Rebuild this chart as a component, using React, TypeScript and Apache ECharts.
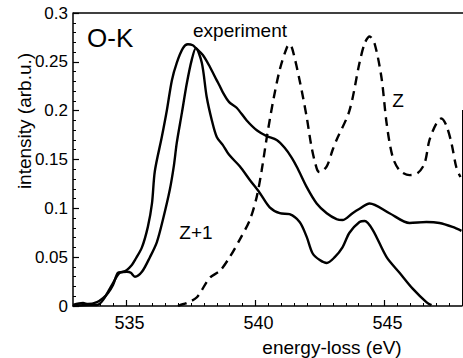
import React, { useEffect, useRef } from "react";
import * as echarts from "echarts";

// energy-loss (eV) and intensity (arb.u.)
const expE = [532.93, 533.32, 533.51, 533.86, 534.09, 534.28, 534.48, 534.67, 534.86, 535.02, 535.21, 535.33, 535.6, 535.83, 535.99, 536.1, 536.37, 536.57, 536.76, 536.95, 537.19, 537.38, 537.57, 537.69, 537.96, 538.23, 538.5, 538.62, 538.73, 538.97, 539.27, 539.66, 540.05, 540.44, 540.82, 541.13, 541.4, 541.63, 541.98, 542.37, 542.76, 543.14, 543.37, 543.76, 544.0, 544.42, 545.19, 545.97, 546.62, 547.13, 547.63, 547.98];
const expI = [0.001, 0.003, 0.002, 0.004, 0.008, 0.013, 0.0215, 0.034, 0.035, 0.037, 0.042, 0.047, 0.06, 0.081, 0.105, 0.138, 0.173, 0.201, 0.231, 0.249, 0.264, 0.268, 0.267, 0.264, 0.257, 0.245, 0.231, 0.225, 0.219, 0.209, 0.203, 0.19, 0.18, 0.174, 0.17, 0.162, 0.152, 0.141, 0.122, 0.105, 0.095, 0.089, 0.088, 0.095, 0.099, 0.105, 0.095, 0.085, 0.086, 0.085, 0.081, 0.077];

const zp1E = [532.93, 533.59, 533.86, 534.09, 534.48, 534.75, 535.02, 535.17, 535.33, 535.6, 535.91, 536.18, 536.41, 536.68, 536.84, 536.95, 537.15, 537.34, 537.53, 537.69, 537.92, 538.11, 538.31, 538.5, 538.73, 538.97, 539.39, 539.78, 540.16, 540.55, 540.94, 541.32, 541.71, 541.98, 542.21, 542.49, 542.76, 543.07, 543.37, 543.64, 544.03, 544.23, 544.54, 545.08, 545.58, 546.08, 546.62, 546.82];
const zp1I = [0, 0.001, 0.001, 0.006, 0.0235, 0.034, 0.035, 0.034, 0.03, 0.035, 0.05, 0.0655, 0.088, 0.119, 0.144, 0.167, 0.198, 0.228, 0.252, 0.264, 0.249, 0.214, 0.19, 0.173, 0.165, 0.155, 0.143, 0.129, 0.116, 0.101, 0.095, 0.094, 0.086, 0.071, 0.054, 0.047, 0.044, 0.05, 0.06, 0.075, 0.086, 0.087, 0.078, 0.05, 0.034, 0.018, 0.004, 0.001];

const zE = [537.0, 537.07, 537.34, 537.73, 538.23, 538.62, 539.0, 539.39, 539.78, 540.05, 540.24, 540.44, 540.67, 540.94, 541.22, 541.33, 541.44, 541.71, 541.98, 542.17, 542.37, 542.48, 542.76, 542.99, 543.14, 543.64, 544.03, 544.23, 544.42, 544.61, 544.88, 545.08, 545.31, 545.58, 545.97, 546.28, 546.55, 546.74, 547.01, 547.2, 547.39, 547.59, 547.78, 547.94];
const zI = [0, 0.001, 0.003, 0.009, 0.029, 0.036, 0.05, 0.068, 0.088, 0.112, 0.139, 0.173, 0.208, 0.242, 0.265, 0.268, 0.262, 0.231, 0.194, 0.163, 0.141, 0.137, 0.143, 0.16, 0.17, 0.2, 0.249, 0.269, 0.276, 0.269, 0.234, 0.187, 0.153, 0.139, 0.134, 0.136, 0.146, 0.17, 0.187, 0.192, 0.185, 0.167, 0.142, 0.132];

const xLabels = [535, 540, 545];
const xMin = 532.93;
const xMax = 548;
const yMin = 0;
const yMax = 0.3;
const yStep = 0.05;

const FONT = "'Liberation Sans', Arial, Helvetica, sans-serif";

export default function App() {
  const ref = useRef<HTMLDivElement>(null);
  useEffect(() => {
    document.body.style.margin = "0";
    const chart = echarts.init(ref.current!, null, { renderer: "svg" });
    const minorX: number[] = [];
    for (let v = 533; v <= 548; v += 0.5) minorX.push(v);
    const pair = (xs: number[], ys: number[]) => xs.map((x, i) => [x, ys[i]]);
    chart.setOption({
      animation: false,
      backgroundColor: "#fff",
      grid: { left: 73, right: 1, top: 13, bottom: 52 },
      xAxis: [
        {
          type: "value",
          min: xMin,
          max: xMax,
          axisLine: { show: true, lineStyle: { color: "#000", width: 1.5 } },
          axisTick: { show: true, inside: true, length: 6, customValues: xLabels, lineStyle: { color: "#000", width: 1.2 } },
          axisLabel: { customValues: xLabels, color: "#000", fontSize: 18, fontFamily: FONT, margin: 8, padding: [0, 0, 0, 6] },
          splitLine: { show: false },
        },
        {
          type: "value",
          min: xMin,
          max: xMax,
          position: "bottom",
          axisLine: { show: false },
          axisTick: { show: true, inside: true, length: 3, customValues: minorX, lineStyle: { color: "#000", width: 1 } },
          axisLabel: { show: false },
          splitLine: { show: false },
        },
      ],
      yAxis: {
        type: "value",
        min: yMin,
        max: yMax,
        interval: yStep,
        axisLine: { show: true, lineStyle: { color: "#000", width: 1.5 } },
        axisTick: { show: true, inside: true, length: 6, lineStyle: { color: "#000", width: 1.2 } },
        minorTick: { show: true, splitNumber: 5, length: 3, lineStyle: { color: "#000", width: 1 } },
        axisLabel: {
          color: "#000",
          fontSize: 17,
          fontFamily: FONT,
          margin: 5,
          padding: [10, 0, 0, 0],
          formatter: (v: number) => String(parseFloat(v.toFixed(2))),
        },
        splitLine: { show: false },
      },
      series: [
        {
          name: "experiment",
          type: "line",
          data: pair(expE, expI),
          showSymbol: false,
          smooth: 0.3,
          lineStyle: { color: "#000", width: 2.4 },
        },
        {
          name: "Z+1",
          type: "line",
          data: pair(zp1E, zp1I),
          showSymbol: false,
          smooth: 0.3,
          lineStyle: { color: "#000", width: 2.4 },
        },
        {
          name: "Z",
          type: "line",
          data: pair(zE, zI),
          showSymbol: false,
          smooth: 0.3,
          lineStyle: { color: "#000", width: 2.4, type: [9, 6] },
        },
      ],
      graphic: [
        { type: "line", shape: { x1: 73, y1: 13, x2: 463, y2: 13 }, style: { stroke: "#000", lineWidth: 1.5 } },
        { type: "line", shape: { x1: 462.5, y1: 110, x2: 462.5, y2: 306 }, style: { stroke: "#000", lineWidth: 1 } },
        { type: "text", x: 87, y: 37.5, style: { text: "O-K", fontSize: 26, fontFamily: FONT, fill: "#000", align: "left", verticalAlign: "middle" } },
        { type: "text", x: 240, y: 30, style: { text: "experiment", fontSize: 19, fontFamily: FONT, fill: "#000", align: "center", verticalAlign: "middle" } },
        { type: "text", x: 398, y: 100, style: { text: "Z", fontSize: 19, fontFamily: FONT, fill: "#000", align: "center", verticalAlign: "middle" } },
        { type: "text", x: 196, y: 232, style: { text: "Z+1", fontSize: 19, fontFamily: FONT, fill: "#000", align: "center", verticalAlign: "middle" } },
        { type: "text", x: 332, y: 347.5, style: { text: "energy-loss (eV)", fontSize: 19, fontFamily: FONT, fill: "#000", align: "center", verticalAlign: "middle" } },
        { type: "text", x: 24, y: 121, rotation: Math.PI / 2, style: { text: "intensity (arb.u.)", fontSize: 19, fontFamily: FONT, fill: "#000", align: "center", verticalAlign: "middle" } },
      ],
    });
    return () => chart.dispose();
  }, []);
  return <div ref={ref} style={{ width: 463, height: 358 }} />;
}
